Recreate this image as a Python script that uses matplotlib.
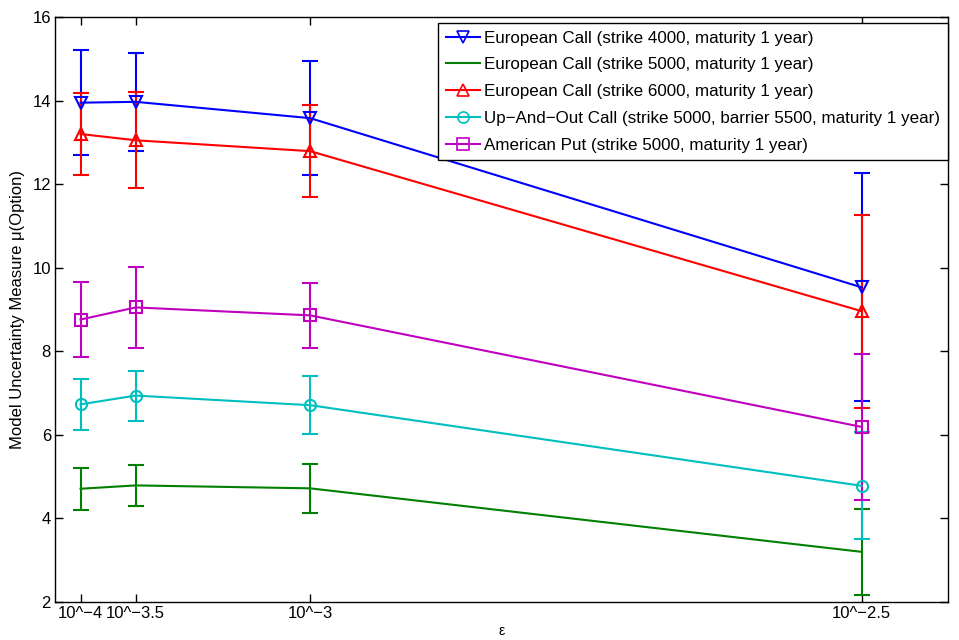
import numpy as np
import matplotlib
matplotlib.use('Agg')
import matplotlib.pyplot as plt
from matplotlib.lines import Line2D

# %% Datos

eps = [1e-4, 3.162e-4, 1e-3, 3.162e-3]
eps_labels = ['10^\u22124', '10^\u22123.5', '10^\u22123', '10^\u22122.5']

call4000 = [13.95, 13.97, 13.58, 9.53]
err4000 = [1.25, 1.17, 1.36, 2.73]

call5000 = [4.71, 4.79, 4.72, 3.20]
err5000 = [0.50, 0.49, 0.58, 1.03]

call6000 = [13.20, 13.05, 12.79, 8.96]
err6000 = [0.97, 1.15, 1.10, 2.31]

upout = [6.73, 6.94, 6.71, 4.78]
err_upout = [0.61, 0.60, 0.70, 1.28]

amput = [8.76, 9.05, 8.86, 6.19]
err_amput = [0.90, 0.97, 0.78, 1.74]

labels = ['European Call (strike 4000, maturity 1 year)',
          'European Call (strike 5000, maturity 1 year)',
          'European Call (strike 6000, maturity 1 year)',
          'Up\u2212And\u2212Out Call (strike 5000, barrier 5500, maturity 1 year)',
          'American Put (strike 5000, maturity 1 year)']

# %% Grafico

plt.rcParams['font.family'] = ['Liberation Sans', 'DejaVu Sans']

fig = plt.figure(figsize=(9.59, 6.4), dpi=100)
ax = fig.add_axes([0.0574, 0.0594, 0.931, 0.914])

series = [(call4000, err4000, (0, 0, 1), 'v'),
          (call5000, err5000, (0, 0.5, 0), 'none'),
          (call6000, err6000, (1, 0, 0), '^'),
          (upout, err_upout, (0, 0.75, 0.75), 'o'),
          (amput, err_amput, (0.75, 0, 0.75), 's')]

handles = []
for (y, e, c, m), lab in zip(series, labels):
    ax.errorbar(eps, y, yerr=e, color=c, marker=m, markersize=8,
                markerfacecolor='none', markeredgecolor=c, markeredgewidth=1.5,
                lw=1.5, elinewidth=1.5, capsize=5.5, capthick=1.5)
    # en la leyenda solo linea + marcador, sin barras de error
    handles.append(Line2D([], [], color=c, marker=m, markersize=8,
                          markerfacecolor='none', markeredgewidth=1.2,
                          lw=1.5, label=lab))

ax.set_xlim(0, 3.5e-3)
ax.set_ylim(2, 16)
ax.set_xticks(eps)
ax.set_xticklabels(eps_labels)
ax.set_yticks(np.arange(2, 17, 2))

ax.tick_params(direction='in', top=True, right=True, length=6, width=1,
               labelsize=12, pad=3)
for s in ax.spines.values():
    s.set_linewidth(1.0)

ax.set_xlabel('\u03b5', fontsize=10, labelpad=2)
ax.set_ylabel('Model Uncertainty Measure \u03bc(Option)', fontsize=12, labelpad=5)

leg = ax.legend(handles=handles, loc='upper right',
                bbox_to_anchor=(1.0, 1 - 6 / 585), borderaxespad=0,
                fontsize=12.25, fancybox=False, edgecolor='black',
                framealpha=1, handlelength=2.0, handletextpad=0.25,
                labelspacing=0.69, borderpad=0.45)
leg.get_frame().set_linewidth(1.0)

fig.savefig('out.png', dpi=100)
